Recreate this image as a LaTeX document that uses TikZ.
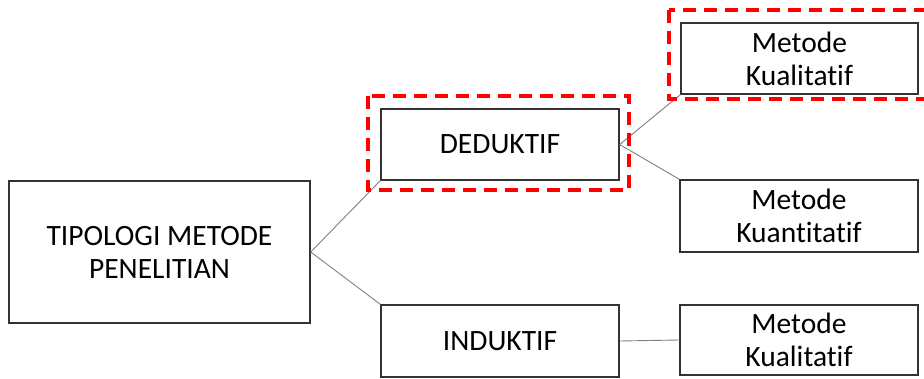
\documentclass[tikz,border=0pt]{standalone}
\usepackage{fontspec}
\setmainfont{Carlito}[Ligatures=NoCommon]
\begin{document}
\begin{tikzpicture}[x=1pt,y=-1pt,
  box/.style={draw=black!80,line width=1.4pt,fill=white,align=center,inner sep=0pt,
    font=\fontsize{29.5}{33}\selectfont},
  conn/.style={draw=black!50,line width=0.9pt},
  hl/.style={draw=red,line width=4pt,dash pattern=on 13pt off 8pt}]
\clip (0,0) rectangle (924,378);
\fill[white] (0,0) rectangle (924,378);
\node[box,minimum width=301pt,minimum height=142pt] (tip) at (159.5,252) {TIPOLOGI METODE\\PENELITIAN};
\node[box,minimum width=238pt,minimum height=71pt] (ded) at (500,144.5) {DEDUKTIF};
\node[box,minimum width=238pt,minimum height=72pt] (ind) at (500,341) {INDUKTIF};
\node[box,minimum width=237pt,minimum height=71pt] (kt) at (799.5,58.5) {Metode\\Kualitatif};
\node[box,minimum width=238pt,minimum height=72pt] (kn) at (799,216) {Metode\\Kuantitatif};
\node[box,minimum width=238pt,minimum height=70pt] (kb) at (799,340) {Metode\\Kualitatif};
\draw[conn] (tip.east) -- (ded.south west);
\draw[conn] (tip.east) -- (ind.north west);
\draw[conn] (ded.east) -- (kt.south west);
\draw[conn] (ded.east) -- (kn.north west);
\draw[conn] (ind.east) -- (kb.west);
\coordinate (r1a) at (368,96);
\coordinate (r1b) at (629,190);
\coordinate (r2a) at (669,10);
\coordinate (r2b) at (940,99);
\draw[hl] (r1a) rectangle (r1b);
\draw[hl] (r2a) rectangle (r2b);
\end{tikzpicture}
\end{document}
